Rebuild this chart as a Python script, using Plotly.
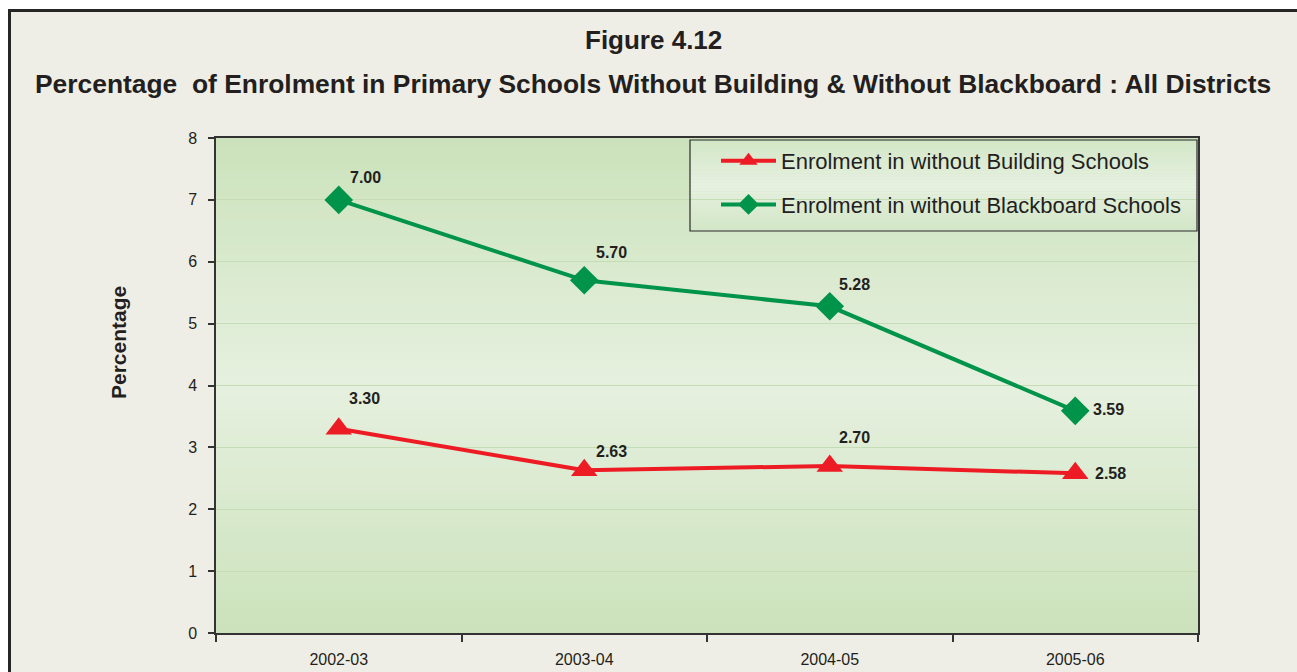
import plotly.graph_objects as go

# ---- data ----
years = ["2002-03", "2003-04", "2004-05", "2005-06"]
without_building = [3.30, 2.63, 2.70, 2.58]
without_blackboard = [7.00, 5.70, 5.28, 3.59]
y_ticks = [0, 1, 2, 3, 4, 5, 6, 7, 8]

series_names = ["Enrolment in without Building Schools",
                "Enrolment in without Blackboard Schools"]

# ---- styling ----
W, H = 1297, 672
FONT = "Liberation Sans, Arial, Helvetica, sans-serif"
RED = "#ed1c24"
GREEN = "#00934a"
INK = "#231f20"
PAGE = "#efeee6"

# label offsets (px) for value labels, per point
bld_shift = [(26, 30), (27, 19), (25, 28), (35, 0)]
bbd_shift = [(27, 22), (27, 28), (25, 22), (33, 1)]


def px_x(p):
    return p / W


def px_y(p):
    return 1 - p / H


def mix(c1, c2, t):
    a = [int(c1[i:i + 2], 16) for i in (1, 3, 5)]
    b = [int(c2[i:i + 2], 16) for i in (1, 3, 5)]
    return "#%02x%02x%02x" % tuple(round(a[i] + (b[i] - a[i]) * t) for i in range(3))


def gradient_strips(xref, yref, x0, x1, y0, y1, edge, mid, n=60):
    out = []
    for i in range(n):
        f0 = i / n
        f1 = (i + 1) / n
        t = abs((f0 + f1) / 2 - 0.5) * 2
        col = mix(mid, edge, t)
        out.append(dict(type="rect", xref=xref, yref=yref, layer="below",
                        x0=x0, x1=x1,
                        y0=y0 + (y1 - y0) * f0, y1=y0 + (y1 - y0) * f1 + (y1 - y0) * 0.002,
                        fillcolor=col, line=dict(width=0)))
    return out


fig = go.Figure()

fig.add_trace(go.Scatter(
    x=years, y=without_building, name=series_names[0], legendgroup="a",
    mode="lines+markers",
    line=dict(color=RED, width=4),
    marker=dict(symbol="triangle-up", size=23, color=RED),
))
fig.add_trace(go.Scatter(
    x=years, y=without_blackboard, name=series_names[1], legendgroup="b",
    mode="lines+markers",
    line=dict(color=GREEN, width=4),
    marker=dict(symbol="diamond", size=22, color=GREEN),
))

annotations = []
for vals, shifts in ((without_building, bld_shift), (without_blackboard, bbd_shift)):
    for yr, v, (dx, dy) in zip(years, vals, shifts):
        annotations.append(dict(
            x=yr, y=v, xref="x", yref="y", text=f"<b>{v:.2f}</b>",
            showarrow=False, xshift=dx, yshift=dy,
            xanchor="center", yanchor="middle",
            font=dict(family=FONT, size=16, color=INK)))

annotations += [
    dict(text="<b>Figure 4.12</b>", xref="paper", yref="paper",
         x=px_x(653), y=px_y(40), xanchor="center", yanchor="middle",
         showarrow=False, font=dict(family=FONT, size=26, color=INK)),
    dict(text="<b>Percentage  of Enrolment in Primary Schools Without Building &amp; Without Blackboard : All Districts</b>",
         xref="paper", yref="paper", x=px_x(653), y=px_y(84),
         xanchor="center", yanchor="middle", showarrow=False,
         font=dict(family=FONT, size=26.4, color=INK)),
    dict(text="<b>Percentage</b>", xref="paper", yref="paper",
         x=px_x(118), y=px_y(343), xanchor="center", yanchor="middle",
         showarrow=False, textangle=-90,
         font=dict(family=FONT, size=21, color=INK)),
]

shapes = [
    # outer framed panel
    dict(type="rect", xref="paper", yref="paper", layer="below",
         x0=px_x(9.5), x1=1.02, y0=-0.05, y1=px_y(10.5),
         fillcolor=PAGE, line=dict(color="#262626", width=3)),
]
# plot area gradient
shapes += gradient_strips("x domain", "y domain", 0, 1, 0, 1, "#cbe2bb", "#e6f0df")
# legend box
shapes += gradient_strips("paper", "paper", px_x(690), px_x(1197), px_y(231), px_y(140),
                          "#d2e6c6", "#e7f1e1", n=30)
shapes.append(dict(type="rect", xref="paper", yref="paper", layer="above",
                   x0=px_x(690), x1=px_x(1197), y0=px_y(231), y1=px_y(140),
                   line=dict(color="#2a2a2a", width=1.2)))

fig.update_layout(
    width=W, height=H,
    margin=dict(l=0, r=0, t=0, b=0),
    paper_bgcolor="white",
    plot_bgcolor="rgba(0,0,0,0)",
    font=dict(family=FONT, color=INK),
    showlegend=True,
    legend=dict(
        x=px_x(716), y=px_y(140), xanchor="left", yanchor="top",
        bgcolor="rgba(0,0,0,0)", borderwidth=0,
        font=dict(family=FONT, size=22, color=INK),
        tracegroupgap=12, itemwidth=55,
    ),
    xaxis=dict(
        domain=[px_x(216), px_x(1198)], type="category",
        range=[-0.5, 3.5], tickson="boundaries",
        ticks="outside", ticklen=7, tickwidth=1.5, tickcolor="#333",
        showline=True, linecolor="#333", linewidth=1.5, mirror=True,
        showgrid=False, zeroline=False, automargin=False,
        tickfont=dict(family=FONT, size=16, color=INK),
        ticklabelstandoff=11,
    ),
    yaxis=dict(
        domain=[1 - 633 / H, 1 - 138 / H],
        range=[0, 8], tickvals=y_ticks,
        ticks="outside", ticklen=6, tickwidth=1.5, tickcolor="#333",
        showline=True, linecolor="#333", linewidth=1.5, mirror=True,
        showgrid=True, gridcolor="#c5ddb4", gridwidth=1,
        zeroline=False, automargin=False,
        tickfont=dict(family=FONT, size=16, color=INK),
        ticklabelstandoff=8,
    ),
    annotations=annotations,
    shapes=shapes,
)

fig.write_html("out.html")
